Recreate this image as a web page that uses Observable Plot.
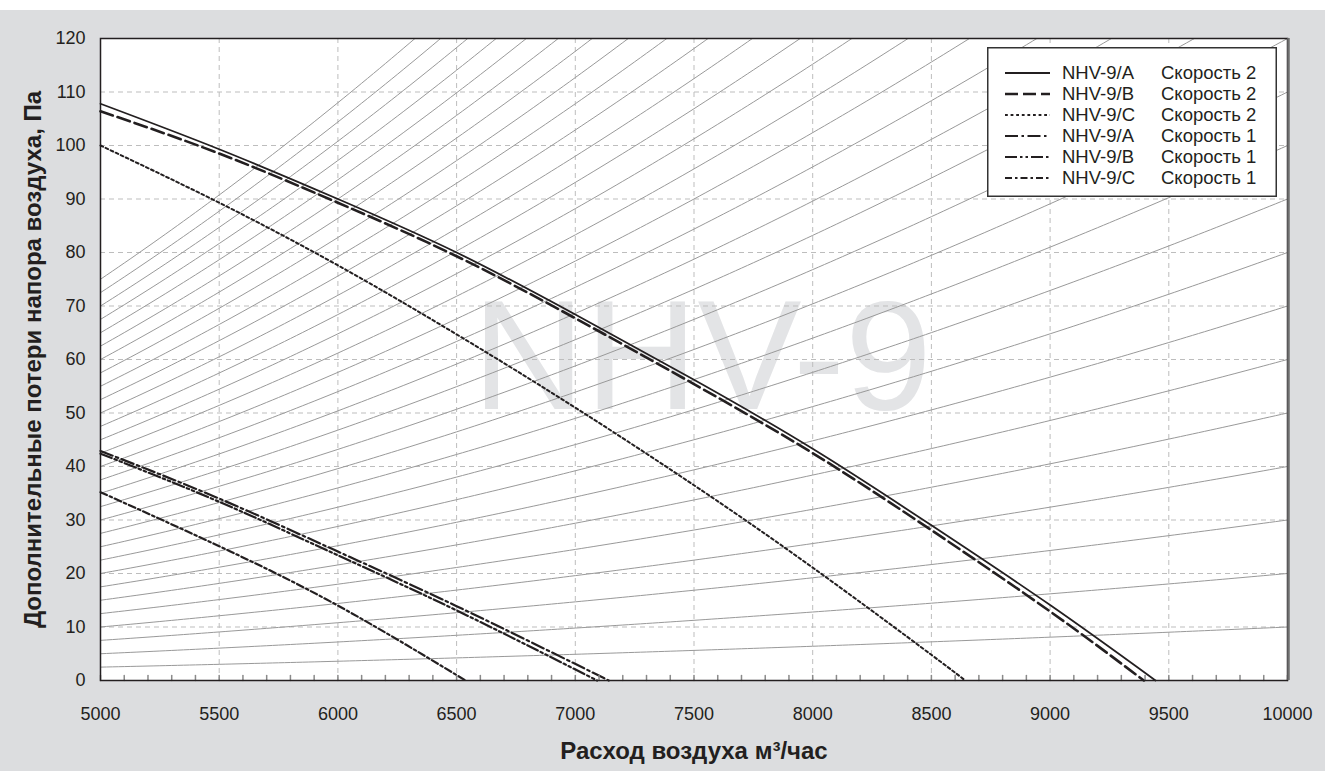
<!DOCTYPE html>
<html><head><meta charset="utf-8">
<script src="https://cdn.jsdelivr.net/npm/d3@7"></script>
<script src="https://cdn.jsdelivr.net/npm/@observablehq/plot@0.6"></script>
<style>
html,body{margin:0;padding:0;background:#fff;}
#wrap{position:relative;width:1325px;height:771px;font-family:"Liberation Sans",Arial,sans-serif;}
#bg{position:absolute;left:0;top:10px;width:1325px;height:761px;background:#dcdddf;}
#chart{position:absolute;left:0;top:0;}
#legend{position:absolute;left:987px;top:47px;}
</style></head><body>
<div id="wrap"><div id="bg"></div><div id="chart"></div><div id="legend"></div></div>
<script>
// ---- data ----
const flowTicks = [5000, 5500, 6000, 6500, 7000, 7500, 8000, 8500, 9000, 9500, 10000];
const pressureTicks = [0, 10, 20, 30, 40, 50, 60, 70, 80, 90, 100, 110, 120];
const xTitle = "Расход воздуха м³/час";
const yTitle = "Дополнительные потери напора воздуха, Па";
const watermark = "NHV-9";

// system (network) characteristic curves: pressure reached at 10000 m³/h
const systemPressureAt10000 = [10, 20, 30, 40, 50, 60, 70, 80, 90, 100, 110, 120, 130, 140, 150,
  160, 170, 180, 190, 200, 210, 220, 230, 240, 250, 260, 270, 280, 290, 300];

// fan curves (flow m³/h, pressure Pa)
const qA2 = [5000, 5500, 6000, 6500, 7000, 7500, 8000, 8500, 9000, 9444];
const pA2 = [107.8, 99.3, 90.0, 80.0, 68.4, 56.2, 43.3, 29.0, 14.1, 0];
const qB2 = [5000, 5500, 6000, 6500, 7000, 7500, 8000, 8500, 9000, 9395];
const pB2 = [106.4, 98.5, 89.3, 79.3, 67.7, 55.4, 42.5, 28.1, 12.9, 0];
const qC2 = [5000, 5500, 6000, 6500, 7000, 7500, 8000, 8500, 8642];
const pC2 = [100.0, 89.3, 77.6, 64.7, 51.0, 36.5, 21.1, 4.8, 0];
const qA1 = [5000, 5500, 6000, 6500, 7141];
const pA1 = [42.9, 34.0, 24.1, 13.9, 0];
const qB1 = [5000, 5500, 6000, 6500, 7092];
const pB1 = [42.4, 33.4, 23.4, 13.1, 0];
const qC1 = [5000, 5500, 6000, 6538];
const pC1 = [35.2, 25.1, 14.0, 0];

const seriesNames = ["NHV-9/A", "NHV-9/B", "NHV-9/C", "NHV-9/A", "NHV-9/B", "NHV-9/C"];
const seriesSpeeds = ["Скорость 2", "Скорость 2", "Скорость 2", "Скорость 1", "Скорость 1", "Скорость 1"];

// ---- styles ----
const ink = "#231f20";
const dashes = [null, "13,5", "2.8,2.8", "13,3.5,2.5,3.5", "12,3,2.5,3,2.5,3", "7,3,2.5,3"];
const widths = [1.8, 2.6, 2, 2.2, 2.2, 2.2];

const fanSeries = [[qA2, pA2], [qB2, pB2], [qC2, pC2], [qA1, pA1], [qB1, pB1], [qC1, pC1]]
  .map(([q, p]) => q.map((v, i) => ({q: v, p: p[i]})));

const sampleQ = d3.range(5000, 10001, 25);
const systemRows = systemPressureAt10000.flatMap((v) =>
  sampleQ.map((q) => ({k: v, q, p: v * (q / 10000) ** 2})));

const font = "Liberation Sans, Arial, sans-serif";

const chart = Plot.plot({
  width: 1325, height: 771,
  marginLeft: 100, marginRight: 38, marginTop: 38, marginBottom: 91,
  style: {background: "transparent", fontFamily: font, fontSize: "18px", color: ink},
  x: {domain: [5000, 10000]},
  y: {domain: [0, 120]},
  marks: [
    Plot.frame({fill: "white"}),
    Plot.text([watermark], {frameAnchor: "middle", dx: 8, dy: 0, fontSize: 156, fill: "#e3e4e6", fontFamily: font}),
    Plot.gridX({ticks: flowTicks, stroke: "#bdbdbd", strokeOpacity: 1, strokeDasharray: "5,4"}),
    Plot.gridY({ticks: pressureTicks, stroke: "#bdbdbd", strokeOpacity: 1, strokeDasharray: "5,4"}),
    Plot.line(systemRows, {x: "q", y: "p", z: "k", stroke: "#999", strokeWidth: 1, clip: true}),
    ...fanSeries.map((rows, i) => Plot.line(rows, {x: "q", y: "p", stroke: ink, strokeWidth: widths[i],
      strokeDasharray: dashes[i], curve: "natural"})),
    Plot.vector(d3.range(5000, 10001, 100), {x: (d) => d, frameAnchor: "bottom", length: 5, anchor: "start",
      stroke: "#8a8a8a", shape: {draw(c, l) { c.moveTo(0, 0); c.lineTo(0, -l); }}}),
    Plot.frame({stroke: ink, strokeWidth: 1.5}),
    Plot.ruleX([10000], {stroke: "#6e6e6e", strokeWidth: 2.5, dx: 1}),
    Plot.axisX({ticks: flowTicks, tickSize: 0, tickPadding: 27, tickFormat: d3.format("d"), label: null, fontSize: 18, fill: ink}),
    Plot.axisY({ticks: pressureTicks, tickSize: 0, tickPadding: 15, label: null, fontSize: 18, fill: ink}),
    Plot.text([xTitle], {frameAnchor: "bottom", dy: 78, fontWeight: "bold", fontSize: 24, fill: ink}),
    Plot.text([yTitle], {frameAnchor: "left", dx: -67, rotate: -90, textAnchor: "middle", fontWeight: "bold", fontSize: 24, fill: ink})
  ]
});
document.getElementById("chart").appendChild(chart);

// ---- legend ----
const lw = 290, lh = 150;
const leg = d3.select("#legend").append("svg").attr("width", lw).attr("height", lh)
  .style("font-family", font);
leg.append("rect").attr("x", 0.75).attr("y", 0.75).attr("width", lw - 1.5).attr("height", lh - 1.5)
  .attr("fill", "white").attr("stroke", "#333").attr("stroke-width", 1.5);
seriesNames.forEach((name, i) => {
  const y = 26 + i * 21;
  leg.append("line").attr("x1", 18).attr("x2", 63).attr("y1", y).attr("y2", y)
    .attr("stroke", ink).attr("stroke-width", widths[i]).attr("stroke-dasharray", dashes[i]);
  leg.append("text").attr("x", 75).attr("y", y).attr("dy", "0.35em").attr("font-size", 18.5).attr("fill", ink).text(name);
  leg.append("text").attr("x", 174).attr("y", y).attr("dy", "0.35em").attr("font-size", 18.5).attr("fill", ink).text(seriesSpeeds[i]);
});
</script>
</body></html>
